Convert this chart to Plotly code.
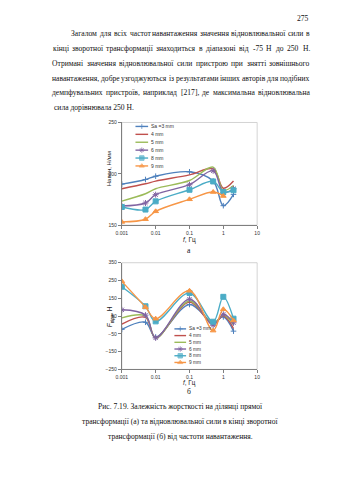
import plotly.graph_objects as go

W, H = 339, 480

# ---------------- data ----------------
freq = [0.001, 0.005, 0.01, 0.1, 0.5, 1, 2]
freq_9 = [0.001, 0.005, 0.01, 0.1, 0.5, 1]
names = ["Sa =3 mm", "4 mm", "5 mm", "6 mm", "8 mm", "9 mm"]
x_tick_vals = [0.001, 0.01, 0.1, 1, 10]
x_tick_text = ["0.001", "0.01", "0.1", "1", "10"]

stiff_3mm = [190, 194.5, 197.7, 202, 193, 169, 180]
stiff_4mm = [185.5, 190.3, 192.9, 199, 204.8, 186, 193]
stiff_5mm = [173.5, 180.6, 185.5, 193.5, 206.5, 184, 188.7]
stiff_6mm = [168.7, 171.6, 179.7, 189.4, 203, 182, 185.5]
stiff_8mm = [167.7, 165.2, 173.2, 184.5, 192.6, 182.3, 184]
stiff_9mm = [153.2, 155.8, 163.5, 175.2, 182.3, 178.4]

force_3mm = [-25, 15, -68, 115, 12, 45, -35]
force_4mm = [5, 42, -72, 128, 3, 52, -20]
force_5mm = [40, 50, -75, 135, 8, 55, 0]
force_6mm = [85, 55, -73, 145, -2, 60, 12]
force_8mm = [215, 105, 20, 180, 18, 158, 35]
force_9mm = [245, 100, 35, 192, -32, 88, 25]

stiff_ticks = [150, 200, 250]
force_ticks = [-250, -150, -50, 50, 150, 250, 350]

paragraph = [
    "Загалом для всіх частот навантаження значення відновлювальної сили в",
    "кінці зворотної трансформації знаходиться в діапазоні від -75 Н до 250 Н.",
    "Отримані значення відновлювальної сили пристрою при знятті зовнішнього",
    "навантаження, добре узгоджуються із результатами інших авторів для подібних",
    "демпфувальних пристроїв, наприклад [217], де максимальна відновлювальна",
    "сила дорівнювала 250 Н.",
]
caption = [
    "Рис. 7.19. Залежність жорсткості на ділянці прямої",
    "трансформації (а) та відновлювальної сили в кінці зворотної",
    "трансформації (б) від частоти навантаження.",
]

# ---------------- styles ----------------
colors = ["#4F81BD", "#C0504D", "#9BBB59", "#8064A2", "#4BACC6", "#F79646"]
symbols = ["cross-thin-open", "circle", "circle", "asterisk-open", "square", "triangle-up"]
msizes = [4, 0, 0, 5, 5, 5]

SERIF = "Liberation Serif"
SANS = "Liberation Sans"
tick_font = dict(family=SANS, size=5, color="#333333")

def px(x):
    return x / W

def py(y):
    return 1 - y / H

# plot areas in pixels
A_L, A_R, A_T, A_B = 119, 258, 121, 225
B_L, B_R, B_T, B_B = 119, 258, 263, 371

fig = go.Figure()

stiff_sets = [stiff_3mm, stiff_4mm, stiff_5mm, stiff_6mm, stiff_8mm, stiff_9mm]
force_sets = [force_3mm, force_4mm, force_5mm, force_6mm, force_8mm, force_9mm]

for i, (nm, ys) in enumerate(zip(names, stiff_sets)):
    xs = freq_9 if len(ys) == len(freq_9) else freq
    fig.add_trace(go.Scatter(
        x=xs, y=ys, name=nm, mode="lines+markers" if msizes[i] else "lines",
        line=dict(color=colors[i], width=1.4, shape="spline", smoothing=1),
        marker=dict(symbol=symbols[i], size=msizes[i], color=colors[i],
                    line=dict(color=colors[i], width=1)),
        xaxis="x", yaxis="y", showlegend=False))

for i, (nm, ys) in enumerate(zip(names, force_sets)):
    fig.add_trace(go.Scatter(
        x=freq, y=ys, name=nm, mode="lines+markers" if msizes[i] else "lines",
        line=dict(color=colors[i], width=1.4, shape="spline", smoothing=1),
        marker=dict(symbol=symbols[i], size=msizes[i], color=colors[i],
                    line=dict(color=colors[i], width=1)),
        xaxis="x2", yaxis="y2", showlegend=False))

# ------------- manual legends (overlay pixel axis) -------------
annotations = []

def add_legend(x_line0, x_line1, y_first, step, fsize):
    for i, nm in enumerate(names):
        yy = y_first + i * step
        fig.add_trace(go.Scatter(
            x=[x_line0, (x_line0 + x_line1) / 2, x_line1], y=[yy, yy, yy],
            mode="lines+markers",
            line=dict(color=colors[i], width=1.4),
            marker=dict(symbol=symbols[i], size=[0, msizes[i] * 0.9, 0],
                        color=colors[i], line=dict(color=colors[i], width=1)),
            xaxis="x3", yaxis="y3", showlegend=False, hoverinfo="skip"))
        annotations.append(dict(
            text=nm, x=px(x_line1 + 1), y=py(yy), xref="paper", yref="paper",
            xanchor="left", yanchor="middle", showarrow=False,
            font=dict(family=SANS, size=fsize, color="#333333")))

add_legend(133, 146, 125, 8, 5)
add_legend(173, 185, 330, 6.8, 4.8)

# ------------- page text -------------
CW = {
    "а": .444, "б": .509, "в": .472, "г": .41, "д": .509, "е": .444, "є": .433, "ж": .691,
    "з": .395, "и": .535, "й": .535, "і": .278, "ї": .278, "к": .486, "л": .499, "м": .633,
    "н": .535, "о": .5, "п": .535, "р": .5, "с": .444, "т": .437, "у": .5, "ф": .648,
    "х": .5, "ц": .535, "ч": .503, "ш": .77, "щ": .77, "ь": .456, "ю": .747, "я": .479,
    " ": .25, ",": .25, ".": .25, "-": .333, "[": .333, "]": .333, "(": .333, ")": .333,
}

def text_em(s):
    tot = 0
    for c in s:
        if c in CW:
            tot += CW[c]
        elif c.isdigit():
            tot += .5
        elif c.isupper():
            tot += .72
        else:
            tot += .5
    return tot

L_MARG, R_MARG, INDENT = 48, 312, 66
line_y = [31, 46, 61, 76, 91, 106]

# font size such that every justified line keeps a normal word spacing
fs_candidates = []
for k, line in enumerate(paragraph[:-1]):
    words = line.split(" ")
    x0 = INDENT if k == 0 else L_MARG
    em = sum(text_em(w) for w in words) + 0.32 * (len(words) - 1)
    fs_candidates.append((R_MARG - x0) / em)
FS = round(min(fs_candidates), 2)
body_font = dict(family=SERIF, size=FS, color="#111111")

for k, line in enumerate(paragraph):
    words = line.split(" ")
    x0 = INDENT if k == 0 else L_MARG
    if k == len(paragraph) - 1:
        annotations.append(dict(text=line, x=px(x0 - 1), y=py(line_y[k]), xref="paper", yref="paper",
                                xanchor="left", yanchor="middle", showarrow=False, font=body_font))
        continue
    widths = [text_em(w) * FS for w in words]
    gap = (R_MARG - x0 - sum(widths)) / (len(words) - 1)
    xpos = x0
    for w, ww in zip(words, widths):
        annotations.append(dict(text=w, x=px(xpos + ww / 2), y=py(line_y[k]), xref="paper",
                                yref="paper", xanchor="center", yanchor="middle",
                                showarrow=False, font=body_font))
        xpos += ww + gap

annotations.append(dict(text="275", x=px(R_MARG + 1), y=py(16), xref="paper", yref="paper",
                        xanchor="right", yanchor="middle", showarrow=False, font=body_font))

cap_y = [409, 424, 439]
for k, line in enumerate(caption):
    annotations.append(dict(text=line, x=px(179), y=py(cap_y[k]), xref="paper", yref="paper",
                            xanchor="center", yanchor="middle", showarrow=False, font=body_font))

# chart labels
annotations += [
    dict(text="<i>f</i>, Гц", x=px(188), y=py(240), xref="paper", yref="paper",
         showarrow=False, font=dict(family=SANS, size=6.5, color="#222")),
    dict(text="а", x=px(188), y=py(251), xref="paper", yref="paper",
         showarrow=False, font=body_font),
    dict(text="Наван, Н/мм", x=px(101), y=py(168), xref="paper", yref="paper", textangle=-90,
         showarrow=False, font=dict(family=SANS, size=6, color="#222")),
    dict(text="<i>f</i>, Гц", x=px(188), y=py(391), xref="paper", yref="paper",
         showarrow=False, font=dict(family=SANS, size=6.3, color="#222")),
    dict(text="б", x=px(188), y=py(400.5), xref="paper", yref="paper",
         showarrow=False, font=body_font),
    dict(text="<i>F</i><sub>відн</sub>, Н", x=px(101), y=py(318), xref="paper", yref="paper",
         textangle=-90, showarrow=False, font=dict(family=SANS, size=6.5, color="#222")),
]

axis_common = dict(showgrid=False, zeroline=False, showline=True, linecolor="#7f7f7f",
                   linewidth=1, ticks="outside", ticklen=3, tickcolor="#7f7f7f",
                   tickfont=tick_font, fixedrange=True)

fig.update_layout(
    width=W, height=H, margin=dict(l=0, r=0, t=0, b=0),
    paper_bgcolor="white", plot_bgcolor="rgba(0,0,0,0)",
    showlegend=False,
    xaxis=dict(axis_common, type="log", range=[-3, 1], domain=[px(A_L), px(A_R)],
               tickvals=x_tick_vals, ticktext=x_tick_text, anchor="y"),
    yaxis=dict(axis_common, range=[150, 250], domain=[py(A_B), py(A_T)],
               tickvals=stiff_ticks, anchor="x"),
    xaxis2=dict(axis_common, type="log", range=[-3, 1], domain=[px(B_L), px(B_R)],
                tickvals=x_tick_vals, ticktext=x_tick_text, anchor="y2"),
    yaxis2=dict(axis_common, range=[-250, 350], domain=[py(B_B), py(B_T)],
                tickvals=force_ticks, anchor="x2"),
    xaxis3=dict(visible=False, range=[0, W], domain=[0, 1], anchor="y3", fixedrange=True),
    yaxis3=dict(visible=False, range=[H, 0], domain=[0, 1], anchor="x3", fixedrange=True),
    annotations=annotations,
    shapes=[
        dict(type="rect", xref="x domain", yref="y domain", x0=0, x1=1, y0=0, y1=1,
             line=dict(color="#c8c8c8", width=0.8), layer="below"),
        dict(type="rect", xref="x2 domain", yref="y2 domain", x0=0, x1=1, y0=0, y1=1,
             line=dict(color="#c8c8c8", width=0.8), layer="below"),
    ],
)

fig.write_html("out.html")
